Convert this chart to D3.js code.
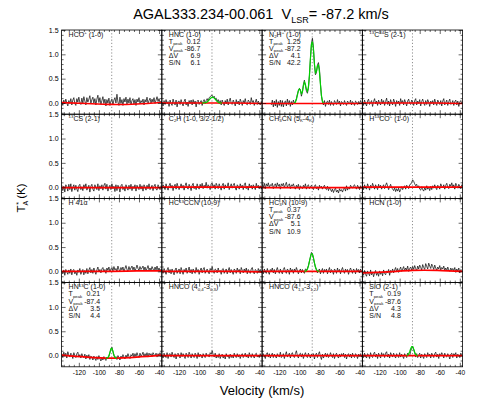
<!DOCTYPE html>
<html><head><meta charset="utf-8">
<script src="https://cdn.jsdelivr.net/npm/d3@7"></script>
<style>
body{margin:0;background:#fff}
svg{display:block;font-family:"Liberation Sans",Arial,Helvetica,sans-serif}
</style>
</head><body>
<svg id="c" width="490" height="420"></svg>
<script>
// ---------------- DATA ----------------
const sourceName = "AGAL333.234-00.061";
const vlsr = -87.2;
const velocity = [
-137,-136,-135,-134,-133,-132,-131,-130,-129,-128,
-127,-126,-125,-124,-123,-122,-121,-120,-119,-118,
-117,-116,-115,-114,-113,-112,-111,-110,-109,-108,
-107,-106,-105,-104,-103,-102,-101,-100,-99,-98,
-97,-96,-95,-94,-93,-92,-91,-90,-89,-88,
-87,-86,-85,-84,-83,-82,-81,-80,-79,-78,
-77,-76,-75,-74,-73,-72,-71,-70,-69,-68,
-67,-66,-65,-64,-63,-62,-61,-60,-59,-58,
-57,-56,-55,-54,-53,-52,-51,-50,-49,-48,
-47,-46,-45,-44,-43,-42,-41,-40,-39,-38,
-37];
const xTicks = [-120,-100,-80,-60,-40];
const xMinor = [-135,-130,-125,-115,-110,-105,-95,-90,-85,-75,-70,-65,-55,-50,-45];
const yTicks = [0.0,0.5,1.0,1.5];
const yMinor = [-0.2,-0.1,0.1,0.2,0.3,0.4,0.6,0.7,0.8,0.9,1.1,1.2,1.3,1.4];
const baseVel = [-137.2,-112.2,-87.2,-62.2,-37.2];

// spectra, antenna temperature in units of 0.01 K, one value per velocity channel
const specHCOp = [3,-5,6,-2,8,0,-6,5,-1,9, -4,6,11,-1,-5,9,2,12,1,-3, 10,0,13,4,-4,11,2,8,15,-1, 7,12,0,9,-4,8,16,1,11,-3, 5,13,-1,8,-6,7,0,10,-5,4, 8,-4,6,11,0,18,2,-5,12,-1, 7,-5,9,2,12,-2,8,0,11,-4, 5,9,-2,7,-5,8,2,11,-2,5, 1,8,-4,7,2,12,-1,5,10,0, 8,2,11,-1,6,13,3,9,0,4, 1];
const specHNC = [2,-6,5,-3,7,-2,3,-7,6,-1, -5,8,0,-4,6,-8,3,4,-3,7, -1,-6,3,8,-4,2,-7,5,-1,6, -4,7,-2,4,-8,3,6,-3,1,5, -5,3,7,-1,5,9,4,11,13,15, 16,11,14,8,10,3,7,-1,5,-4, 6,0,-5,5,-2,8,-4,4,10,-1, -3,6,1,-6,7,-2,4,-4,8,2, -5,5,0,9,-2,-4,6,3,-3,11, 1,5,-5,2,8,-3,4,-1,-4,3, -2];
const specN2Hp = [null,null,null,null,null,null,null,null,null, -4,6,-8,4,-6,7,-9,3,-5,6,-7,5,-8,2,4,-6,8,-3,5,-7,3,-4,6,-1, 3,9,18,26,30,27,14,22,38,47,36,24,20,30,55,90,122,133,115,80,58,62,78,83,70,40,14,2, -4,5,-7,2,4,-3,6,-5,3,-1,-5,5,1,-3,7,-2,4,-6,3,1,-3,5,-1,-5,4,1,-2,6,-4,3,0,-5,4,2,-3,3,-2,5,-1,-3];
const spec13C34S = [3,-5,6,-1,-6,4,8,-3,1,5, -7,3,9,-2,4,-5,6,0,-4,8, -1,5,-5,3,10,-3,4,-6,7,0, -4,8,2,-7,5,-1,4,-5,9,0, 5,-4,7,1,-6,4,8,-1,-3,6, 2,-5,5,9,-4,4,-1,7,-6,3, 8,0,-5,5,-3,7,2,-7,4,-1, 5,-4,8,0,-5,6,2,-3,5,-6, 4,9,-4,1,6,-5,3,8,-3,-1, 5,-5,3,6,-4,4,-7,2,5,-2, 3];
const spec13CS = [4,-7,2,-10,5,1,-8,6,-5,7, -9,0,5,-6,4,-4,-9,3,6,-5, 1,-7,5,-2,7,-6,-1,4,-10,2, 6,-4,-8,5,0,-5,7,-7,3,-3, 5,-6,4,8,-4,6,-8,0,4,-5, 7,-3,2,-9,5,-7,4,0,-10,3, 6,-5,1,-8,5,-1,-6,4,-4,6, -7,2,-3,5,-8,4,-1,-5,6,-4, 3,-8,5,0,-6,4,-3,7,-5,-1, 4,-7,2,6,-4,-6,5,0,-5,3, -1];
const specC2H = [-3,5,1,-5,7,-1,-6,3,8,-2, 4,-7,2,6,-4,8,1,-5,0,7, -2,4,-6,3,9,-1,-4,6,1,-7, 4,8,-3,2,-5,7,0,-4,6,-1, 8,-3,4,0,10,-2,5,2,-5,7, 9,-1,5,-4,8,3,-3,7,0,-6, 4,8,-4,5,-1,2,9,-5,1,7, -2,4,8,-1,-6,5,2,-4,7,0, 4,-5,5,9,-3,2,-6,7,-1,4, -4,5,1,-5,8,-1,4,-3,3,-4, 1];
const specCH3CN = [6,0,8,-3,7,2,9,-1,5,3, 8,-3,4,7,0,9,2,6,-4,7, 3,8,-1,5,10,0,4,7,-3,5, 2,7,0,-4,4,-1,6,-5,3,0, -3,4,-1,7,-4,3,5,-3,1,4, -1,-5,3,5,-3,1,-6,4,-1,2, -4,1,4,-3,-5,2,-7,-1,-4,-9, -4,-11,-5,-2,-10,-6,-12,-3,-8,-5, -10,-4,-1,-8,3,-6,0,-4,4,1, -2,3,5,-1,-4,4,0,-5,3,-1, 1];
const specH13COp = [3,-5,5,-1,-4,7,1,-6,4,-2, 8,2,-4,5,0,-5,6,-1,4,-4, 1,5,-3,4,9,2,-5,1,6,-1, -4,-7,-1,-9,-3,-8,-2,-10,-5,1, -5,0,3,-4,4,1,-3,5,6,10, 15,12,7,3,6,-1,3,-4,-6,1, -5,-8,-1,-6,3,-4,0,-7,2,-5, 3,-2,5,-1,-5,4,1,-4,7,2, -1,5,-4,4,8,0,-3,6,2,9, 0,5,-4,8,3,-2,6,2,-3,5, 2];
const specH41a = [1,-5,3,-8,4,-1,-6,3,-4,5, -7,2,4,-5,0,-8,3,-2,6,-6, 0,4,-7,2,-4,6,-5,3,8,-3, 4,-4,7,0,-6,3,9,-1,4,-3, 5,8,0,4,-4,7,2,9,-1,5, 8,1,10,3,6,0,11,4,1,8, 3,9,0,6,12,4,1,10,3,7, 11,3,9,1,6,13,6,2,10,4, 7,11,2,9,1,6,12,3,7,2, 10,5,1,9,3,11,2,7,0,5, 2];
const specHC13CCN = [4,-4,6,0,-6,3,8,-3,4,-5, 5,-1,-7,3,7,-4,1,5,-5,8, 1,-6,4,-1,7,-4,2,9,-3,4, -5,5,0,-4,8,-1,4,-6,2,7, -3,4,8,-4,1,5,-1,-5,6,2, 10,0,-4,5,3,-3,7,-1,2,-6, 4,6,-4,1,5,-5,2,8,-3,4, -1,-6,5,2,-4,7,0,4,-5,8, 2,-3,5,-1,7,-5,4,0,-4,5, 8,-1,-5,4,2,-4,6,0,4,-3, 2];
const specHC3N = [3,-5,5,0,-4,6,-1,-6,4,1, 7,-3,4,-5,2,8,0,-4,5,-1, -5,4,8,0,-4,5,2,-6,7,1, 4,-4,5,-1,8,2,-5,1,5,-3, 4,-1,-4,5,3,6,12,21,29,39, 36,27,17,8,3,-3,2,5,-5,1, 6,-4,4,-1,5,-5,2,8,-3,4, 1,-6,5,2,-4,7,-1,4,-5,3, 8,0,-4,5,-1,4,-6,2,7,1, -4,5,2,-5,6,0,4,-3,5,-1, 2];
const specHCN = [-3,-8,2,-6,-10,1,-4,-9,3,-7, -1,-11,-3,2,-8,-2,-10,1,-6,-1, -9,3,-4,-7,1,-3,4,-8,2,-2, 5,-3,3,8,-1,6,-2,4,9,0, 5,10,1,7,3,11,0,6,9,2, 10,4,12,6,1,11,5,13,8,3, 14,8,4,16,10,5,17,11,6,15, 10,4,13,7,2,9,5,12,3,8, 5,11,2,7,1,9,3,0,7,2, 6,1,8,-2,5,0,7,-3,4,2, -1];
const specHN13C = [4,-4,7,-1,5,-5,8,1,-3,5, 2,-6,6,0,-4,4,7,-3,2,-5, 4,-2,-4,3,-7,1,-5,2,-8,-1, -3,-9,-1,-6,-10,-2,-8,0,-6,-11, -4,-9,-2,-7,-10,-3,-6,-1,6,13, 17,9,1,-5,-2,-8,0,-4,-9,-1, -5,2,-3,-7,1,-4,4,-2,-6,2, -1,5,-3,4,-2,6,0,-4,5,-1, 2,7,-2,4,-1,6,-3,5,1,4, -2,6,2,-1,5,-3,4,0,6,-2, 2];
const specHNCO404 = [2,-5,5,-1,-4,6,-6,3,4,-3, 7,0,-4,4,-7,2,5,-1,-5,6, -2,4,-1,-6,5,1,-4,7,2,-5, 4,-1,-4,5,1,-6,6,-3,3,-1, -5,4,0,-4,5,-1,2,-3,6,3, 10,2,-3,5,-5,1,-4,4,-6,0, 3,-5,1,-7,4,-2,0,-6,3,-4, 1,-5,5,-1,-4,4,-3,2,-6,1, 4,-4,0,5,-3,2,-5,6,0,-4, 4,-1,-5,3,5,-3,1,-4,4,-1, 1];
const specHNCO413 = [-3,4,-1,-6,3,6,-3,4,-5,1, 5,-4,3,-1,-5,4,0,-3,7,-4, -1,4,-6,2,8,-3,1,5,-5,3, 6,-1,-4,4,10,0,-5,3,5,-3, 4,-6,1,6,-1,-4,5,0,-5,3, -1,4,-7,2,5,-4,3,8,-2,-8, 3,-5,1,5,-3,4,-4,-1,6,0, -4,4,-6,1,5,-1,-5,3,-3,4, -1,5,-4,3,-7,1,4,-3,3,-5, 5,-1,-4,4,1,-6,3,-1,4,-3, 1];
const specSiO = [3,-4,5,-1,-5,4,1,-6,6,-1, -4,4,7,-3,3,-6,5,0,-5,6, -1,4,-4,5,8,-3,3,-5,6,1, -3,5,-1,-5,4,0,-4,6,-3,3, -1,-6,4,0,-4,5,2,-1,9,15, 19,13,6,-3,4,-4,1,5,-5,3, -1,-6,4,0,-4,6,-1,3,-5,5, 1,-4,4,7,-3,3,-6,4,-1,6, 2,-5,5,-1,-3,4,0,-7,3,5, -4,4,1,6,-5,3,-1,-4,5,0, -2];

// fitted baselines (0.01 K) at baseVel
const baseHCOp = [1,-1,-3,-2,1];
const baseHNC = [0,0,0,0,-1];
const baseN2Hp = [-1,-1,-1,-1,-1];
const base13C34S = [0,0,0,0,-1];
const base13CS = [-1,-1,-1,-1,-1];
const baseC2H = [0,0,0,0,0];
const baseCH3CN = [-1,-1,-1,-1,-1];
const baseH13COp = [0,0,0,0,0];
const baseH41a = [0,0,0,1,1];
const baseHC13CCN = [0,0,0,0,-1];
const baseHC3N = [0,0,0,0,0];
const baseHCN = [-3,-1,2,2,0];
const baseHN13C = [1,-3,-5,-3,1];
const baseHNCO404 = [0,0,0,0,0];
const baseHNCO413 = [0,0,0,0,0];
const baseSiO = [0,0,0,0,0];

// line fits (0.01 K), one value per channel starting at the given velocity
const fitHNCStart = -97;
const fitHNC = [0,0.1,0.2,0.5,1.2,2.3,4.1,6.4,8.8,10.9,11.9,11.7,10.1,7.8,5.4,3.3,1.8,0.9,0.4,0.1,0];
const fitN2HpStart = -105;
const fitN2Hp = [0,2,7,16,25,29,26,19,23,35,43,38,28,24,33,57,92,120,126,110,80,62,65,76,78,64,38,15,4,0];
const fitHC3NStart = -95;
const fitHC3N = [0,0.5,1.7,4.7,10.8,20.1,30.0,36.4,35.6,28.2,18.0,9.4,3.9,1.3,0.4,0];
const fitHN13CStart = -93;
const fitHN13C = [-5,-4.8,-3.9,-0.5,6.8,14.4,15.2,8.5,0.7,-3.5,-4.7,-5];
const fitSiOStart = -93;
const fitSiO = [0.2,1.0,3.4,8.0,14.2,18.5,18.0,12.9,6.9,2.7,0.8,0.2];

// fit statistics: Tpeak, Vpeak, dV, S/N
const statsHNC = ["0.12","-86.7","6.9","6.1"];
const statsN2Hp = ["1.25","-87.2","4.1","42.2"];
const statsHC3N = ["0.37","-87.6","5.1","10.9"];
const statsHN13C = ["0.21","-87.4","3.5","4.4"];
const statsSiO = ["0.19","-87.6","4.3","4.8"];

// panel labels as [text, "sub"|"sup"|undefined]
const lineLabels = [
  [["HCO"],["+","sup"],[" (1-0)"]],
  [["HNC (1-0)"]],
  [["N"],["2","sub"],["H"],["+","sup"],[" (1-0)"]],
  [["13","sup"],["C"],["34","sup"],["S (2-1)"]],
  [["13","sup"],["CS (2-1)"]],
  [["C"],["2","sub"],["H (1-0, 3/2-1/2)"]],
  [["CH"],["3","sub"],["CN (5"],["K","sub"],["-4"],["K","sub"],[")"]],
  [["H"],["13","sup"],["CO"],["+","sup"],[" (1-0)"]],
  [["H 41\u03b1"]],
  [["HC"],["13","sup"],["CCN (10-9)"]],
  [["HC"],["3","sub"],["N (10-9)"]],
  [["HCN (1-0)"]],
  [["HN"],["13","sup"],["C (1-0)"]],
  [["HNCO (4"],["0,4","sub"],["-3"],["0,3","sub"],[")"]],
  [["HNCO (4"],["1,3","sub"],["-3"],["1,2","sub"],[")"]],
  [["SiO (2-1)"]]
];
const statNames = [[["T"],["peak","sub"]],[["V"],["peak","sub"]],[["\u0394V"]],[["S/N"]]];

const spectra = [specHCOp,specHNC,specN2Hp,spec13C34S,spec13CS,specC2H,specCH3CN,specH13COp,
                 specH41a,specHC13CCN,specHC3N,specHCN,specHN13C,specHNCO404,specHNCO413,specSiO];
const baselines = [baseHCOp,baseHNC,baseN2Hp,base13C34S,base13CS,baseC2H,baseCH3CN,baseH13COp,
                   baseH41a,baseHC13CCN,baseHC3N,baseHCN,baseHN13C,baseHNCO404,baseHNCO413,baseSiO];
const fits = {1:[fitHNCStart,fitHNC],2:[fitN2HpStart,fitN2Hp],10:[fitHC3NStart,fitHC3N],12:[fitHN13CStart,fitHN13C],15:[fitSiOStart,fitSiO]};
const stats = {1:statsHNC,2:statsN2Hp,10:statsHC3N,12:statsHN13C,15:statsSiO};

// ---------------- DRAW ----------------
const svg = d3.select("#c");
const L = 61.6, T = 30, PW = 100.25, PH = 84.2;
const x = d3.scaleLinear().domain([-137.2,-37.2]).range([0,PW]);
const y = d3.scaleLinear().domain([-0.23,1.5]).range([PH,0]);

function richText(sel, segs, size){
  let off = 0;
  segs.forEach(([t,kind])=>{
    const target = kind==="sub" ? 1.2 : kind==="sup" ? -2.6 : 0;
    sel.append("tspan").text(t)
      .attr("dy", target-off)
      .attr("font-size", kind ? size*0.62 : size);
    off = target;
  });
}

const line = d3.line().defined(d=>d[1]!=null).x(d=>x(d[0])).y(d=>y(d[1]/100));
const LY = 6.8, LS = 7.1;

spectra.forEach((spec,k)=>{
  const col = k%4, row = Math.floor(k/4);
  const g = svg.append("g").attr("transform",`translate(${L+col*PW},${T+row*PH})`);
  const cid = "clip"+k;
  g.append("clipPath").attr("id",cid).append("rect").attr("width",PW).attr("height",PH);
  const plot = g.append("g").attr("clip-path",`url(#${cid})`);

  plot.append("line").attr("x1",x(vlsr)).attr("x2",x(vlsr)).attr("y1",0).attr("y2",PH)
    .attr("stroke","#444").attr("stroke-width",0.6).attr("stroke-dasharray","1.2,2");

  plot.append("path").datum(velocity.map((v,i)=>[v,spec[i]])).attr("d",line)
    .attr("fill","none").attr("stroke","#111").attr("stroke-width",0.75);

  plot.append("path").datum(baseVel.map((v,i)=>[v,baselines[k][i]]))
    .attr("d",d3.line().curve(d3.curveNatural).x(d=>x(d[0])).y(d=>y(d[1]/100)))
    .attr("fill","none").attr("stroke","#ff0000").attr("stroke-width",1.7);

  if (fits[k]){
    const [start,vals] = fits[k];
    const i0 = velocity.indexOf(start);
    plot.append("path").datum(vals.map((val,j)=>[velocity[i0+j],val])).attr("d",line)
      .attr("fill","none").attr("stroke","#00d000").attr("stroke-width",1.2);
  }

  // axes with inward ticks
  const fmtY = d=>d3.format(".1f")(d);
  const ax = [];
  ax.push(g.append("g").call(d3.axisLeft(y).tickValues(yTicks).tickSize(-4).tickPadding(3).tickFormat(fmtY)));
  ax.push(g.append("g").call(d3.axisLeft(y).tickValues(yMinor).tickSize(-2).tickFormat(()=>"")));
  ax.push(g.append("g").attr("transform",`translate(${PW},0)`).call(d3.axisRight(y).tickValues(yTicks).tickSize(-4).tickFormat(()=>"")));
  ax.push(g.append("g").attr("transform",`translate(${PW},0)`).call(d3.axisRight(y).tickValues(yMinor).tickSize(-2).tickFormat(()=>"")));
  ax.push(g.append("g").attr("transform",`translate(0,${PH})`).call(d3.axisBottom(x).tickValues(xTicks).tickSize(-4).tickPadding(4).tickFormat(d=>String(d))));
  ax.push(g.append("g").attr("transform",`translate(0,${PH})`).call(d3.axisBottom(x).tickValues(xMinor).tickSize(-2).tickFormat(()=>"")));
  ax.push(g.append("g").call(d3.axisTop(x).tickValues(xTicks).tickSize(-4).tickFormat(()=>"")));
  ax.push(g.append("g").call(d3.axisTop(x).tickValues(xMinor).tickSize(-2).tickFormat(()=>"")));
  ax.forEach((a,j)=>{
    a.select(".domain").remove();
    a.selectAll(".tick line").attr("stroke","#000").attr("stroke-width",0.6);
    a.attr("font-family",null).attr("font-size",null);
    const keep = (j===0 && col===0) || (j===4 && row===3);
    if (!keep) a.selectAll("text").remove();
    else a.selectAll("text").attr("fill","#000").attr("font-size", j===4 ? 6.6 : 7);
  });

  g.append("rect").attr("width",PW).attr("height",PH).attr("fill","none")
    .attr("stroke","#000").attr("stroke-width",0.8);

  // labels
  const lab = g.append("text").attr("x",7).attr("y",LY).attr("font-size",7).attr("fill","#111");
  richText(lab, lineLabels[k], 7);
  if (stats[k]){
    stats[k].forEach((val,j)=>{
      const ty = LY+LS*(j+1);
      const t = g.append("text").attr("x",7).attr("y",ty).attr("font-size",7).attr("fill","#111");
      richText(t, statNames[j], 7);
      g.append("text").attr("x",38.5).attr("y",ty).attr("text-anchor","end")
        .attr("font-size",7).attr("fill","#111").text(val);
    });
  }
});

// title
const title = svg.append("text").attr("x",261).attr("y",19).attr("text-anchor","middle")
  .attr("font-size",14.5).attr("fill","#000");
title.append("tspan").text(sourceName+"\u00a0\u00a0V");
title.append("tspan").text("LSR").attr("font-size",9).attr("dy",4);
title.append("tspan").text("= "+vlsr+" km/s").attr("dy",-4);

// y axis title
const yt = svg.append("text").attr("transform","translate(25,198) rotate(-90)")
  .attr("text-anchor","middle").attr("font-size",11.5).attr("fill","#000");
yt.append("tspan").text("T");
yt.append("tspan").text("A").attr("font-size",7).attr("dy",2.5);
yt.append("tspan").text("*").attr("font-size",7).attr("dy",-7).attr("dx",-4);
yt.append("tspan").text(" (K)").attr("dy",4.5);

// x axis title
svg.append("text").attr("x",262).attr("y",395).attr("text-anchor","middle")
  .attr("font-size",13).attr("fill","#000").text("Velocity (km/s)");
</script>
</body></html>
